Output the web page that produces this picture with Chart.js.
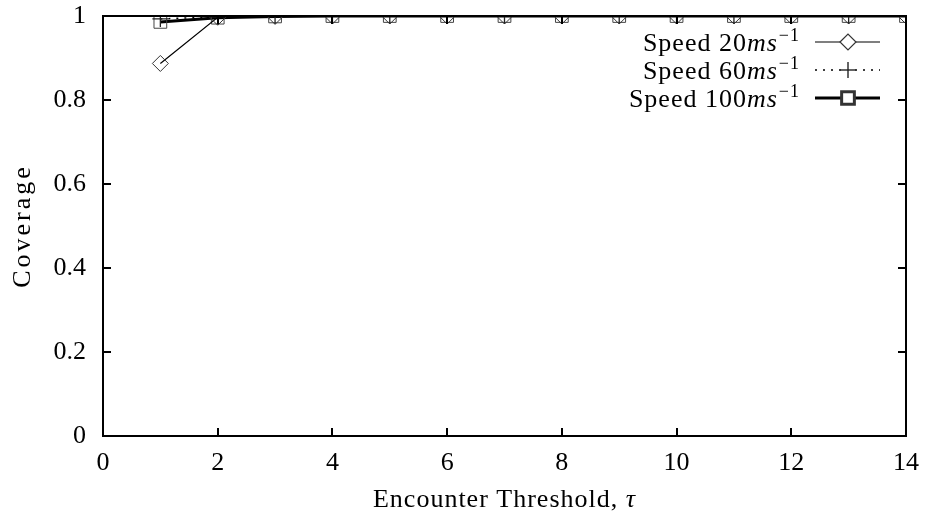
<!DOCTYPE html>
<html><head><meta charset="utf-8">
<script src="https://cdn.jsdelivr.net/npm/chart.js@4"></script>
<style>html,body{margin:0;padding:0;background:#fff}#w{width:926px;height:516px}</style>
</head><body><div id="w"><canvas id="c" width="926" height="516"></canvas></div>
<script>
const thresholds = [1,2,3,4,5,6,7,8,9,10,11,12,13,14];
const speed20 = [0.887,0.997,0.999,1,1,1,1,1,1,1,1,1,1,1];
const speed60 = [0.993,0.998,1,1,1,1,1,1,1,1,1,1,1,1];
const speed100 = [0.986,0.996,0.999,1,1,1,1,1,1,1,1,1,1,1];
const xTicks = [0,2,4,6,8,10,12,14];
const yTicks = [0,0.2,0.4,0.6,0.8,1];
const seriesLabels = ['Speed 20','Speed 60','Speed 100'];
const unitText = 'ms';
const expText = '\u22121';
const xTitle = 'Encounter Threshold, ';
const xTitleSym = '\u03c4';
const yTitle = 'Coverage';
const FONT = '"Liberation Serif","DejaVu Serif",serif';

const pts = a => thresholds.map((x,i)=>({x, y:a[i]}));

const frame = {
  id:'frame',
  afterDatasetsDraw(chart){
    const {ctx, chartArea:a, scales:{x,y}} = chart;
    ctx.save();
    ctx.strokeStyle='#000'; ctx.lineWidth=2;
    ctx.strokeRect(a.left,a.top,a.right-a.left,a.bottom-a.top);
    const L=8;
    ctx.beginPath();
    xTicks.forEach(v=>{const p=Math.round(x.getPixelForValue(v));
      ctx.moveTo(p,a.bottom);ctx.lineTo(p,a.bottom-L);
      ctx.moveTo(p,a.top);ctx.lineTo(p,a.top+L);});
    yTicks.forEach(v=>{const p=Math.round(y.getPixelForValue(v));
      ctx.moveTo(a.left,p);ctx.lineTo(a.left+L,p);
      ctx.moveTo(a.right,p);ctx.lineTo(a.right-L,p);});
    ctx.stroke();
    // axis titles
    ctx.fillStyle='#000';
    ctx.letterSpacing='1px';
    ctx.textBaseline='alphabetic';
    const cx=(a.left+a.right)/2;
    ctx.font='26px '+FONT;
    const w1=ctx.measureText(xTitle).width;
    ctx.font='italic 26px '+FONT;
    const w2=ctx.measureText(xTitleSym).width;
    let sx=cx-(w1+w2)/2;
    ctx.font='26px '+FONT; ctx.textAlign='left';
    ctx.fillText(xTitle,sx,507);
    ctx.font='italic 26px '+FONT;
    ctx.fillText(xTitleSym,sx+w1,507);
    ctx.save();
    ctx.translate(30,(a.top+a.bottom)/2);
    ctx.rotate(-Math.PI/2);
    ctx.letterSpacing='3px';
    ctx.font='26px '+FONT; ctx.textAlign='center';
    ctx.fillText(yTitle,0,0);
    ctx.restore();
    // legend
    const rows=[42,70,98];
    const ds=chart.data.datasets;
    rows.forEach((ry,i)=>{
      const d=ds[i];
      const right=800;
      ctx.letterSpacing='1px';
      ctx.font='18px '+FONT; const we=ctx.measureText(expText).width;
      ctx.font='italic 26px '+FONT; const wu=ctx.measureText(unitText).width;
      ctx.font='26px '+FONT; const wl=ctx.measureText(seriesLabels[i]).width;
      let tx=right-we-wu-wl-1;
      ctx.textAlign='left';
      ctx.font='26px '+FONT; ctx.fillText(seriesLabels[i],tx,ry+9);
      ctx.font='italic 26px '+FONT; ctx.fillText(unitText,tx+wl,ry+9);
      ctx.font='18px '+FONT; ctx.fillText(expText,tx+wl+wu+1,ry-1);
      ctx.letterSpacing='0px';
      ctx.strokeStyle='#000';
      ctx.lineWidth=d.borderWidth;
      ctx.setLineDash(d.borderDash||[]);
      ctx.beginPath();ctx.moveTo(815,ry);ctx.lineTo(880,ry);ctx.stroke();
      ctx.setLineDash([]);
      ctx.fillStyle='#fff'; ctx.strokeStyle='#333';
      Chart.helpers.drawPoint(ctx,{pointStyle:d.pointStyle,radius:d.pointRadius,borderWidth:d.pointBorderWidth},848,ry);
      ctx.fillStyle='#000';
    });
    ctx.restore();
  }
};

new Chart(document.getElementById('c'),{
  type:'line',
  data:{datasets:[
    {label:'Speed 20ms^-1',data:pts(speed20),borderColor:'#000',backgroundColor:'#fff',borderWidth:1.2,
     pointStyle:'rectRot',pointRadius:8,pointBorderWidth:1,pointBorderColor:'#333',pointBackgroundColor:'rgba(255,255,255,0)'},
    {label:'Speed 60ms^-1',data:pts(speed60),borderColor:'#000',backgroundColor:'#fff',borderWidth:1.5,borderDash:[2,6],
     pointStyle:'cross',pointRadius:8,pointBorderWidth:1.3,pointBorderColor:'#222'},
    {label:'Speed 100ms^-1',data:pts(speed100),borderColor:'#000',backgroundColor:'#fff',borderWidth:3,
     pointStyle:'rect',pointRadius:9,pointBorderWidth:1,pointBorderColor:'#444',pointBackgroundColor:'rgba(255,255,255,0)'}
  ]},
  options:{
    responsive:false,animation:false,
    layout:{padding:{top:16,right:20,left:0,bottom:0}},
    plugins:{legend:{display:false},tooltip:{enabled:false}},
    elements:{line:{tension:0}},
    scales:{
      x:{type:'linear',min:0,max:14,
        afterFit(s){s.height=80;s.paddingLeft=0;s.paddingRight=0;},
        afterBuildTicks(s){s.ticks=xTicks.map(v=>({value:v}));},
        grid:{display:false,drawTicks:false},border:{display:false},
        ticks:{color:'#000',padding:12,font:{family:FONT,size:26},maxRotation:0}},
      y:{type:'linear',min:0,max:1,
        afterFit(s){s.width=103;s.paddingTop=0;s.paddingBottom=0;},
        afterBuildTicks(s){s.ticks=yTicks.map(v=>({value:v}));},
        grid:{display:false,drawTicks:false},border:{display:false},
        ticks:{color:'#000',padding:17,font:{family:FONT,size:26},callback:v=>String(Math.round(v*10)/10)}}
    }
  },
  plugins:[frame]
});
</script></body></html>
